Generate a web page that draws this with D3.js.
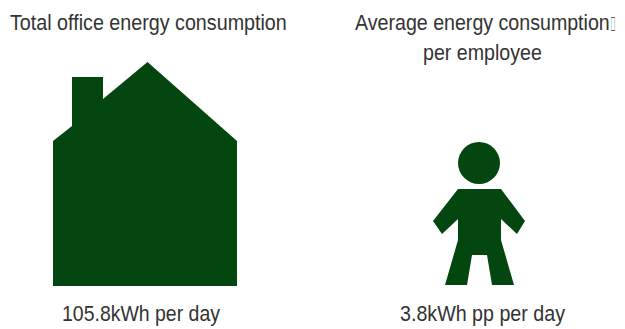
<!DOCTYPE html>
<html>
<head>
<meta charset="utf-8">
<script src="https://cdn.jsdelivr.net/npm/d3@7"></script>
<style>
  html, body { margin: 0; padding: 0; background: #fff; }
  svg { display: block; }
  text { font-family: "Liberation Sans", Arial, sans-serif; font-size: 22px; fill: #333; }
</style>
</head>
<body>
<svg id="chart" width="625" height="329"></svg>
<script>
const titleLeft = "Total office energy consumption";
const titleRight = "Average energy consumption";
const titleRightSecond = "per employee";
const missingGlyph = "\uFFFF";
const values = [105.8, 3.8];
const units = ["kWh per day", "kWh pp per day"];
const fillColor = "#03460f";

// Pictogram outlines, in local drawing units
const houseOutline = [
  [0, 224], [0, 79], [19, 64], [19, 15], [50, 15], [50, 37],
  [94.5, 0], [184, 79], [184, 224]
];
const personOutline = [
  [25, 0], [68, 0], [92, 32], [84, 45], [68, 30], [68, 51], [81, 96],
  [59, 96], [54, 66], [39, 66], [34, 96], [12, 96], [25, 51], [25, 30],
  [9, 45], [0, 32]
];
const personHead = { x: 46, y: -26, r: 21 };

const svg = d3.select("#chart");
const outline = (x, y) => d3.line().x(d => x(d[0])).y(d => y(d[1])).curve(d3.curveLinearClosed);

const houseX = d3.scaleLinear().domain([0, 184]).range([53, 237]);
const houseY = d3.scaleLinear().domain([0, 224]).range([62, 286]);
svg.append("path").attr("d", outline(houseX, houseY)(houseOutline)).attr("fill", fillColor);

const personX = d3.scaleLinear().domain([0, 92]).range([433, 525]);
const personY = d3.scaleLinear().domain([0, 96]).range([189, 285]);
svg.append("path").attr("d", outline(personX, personY)(personOutline)).attr("fill", fillColor);
svg.append("circle")
  .attr("cx", personX(personHead.x))
  .attr("cy", personY(personHead.y))
  .attr("r", personHead.r)
  .attr("fill", fillColor);

// Each label is squeezed horizontally to a fixed run length for a condensed look
const label = (str, x, y, width, size) => {
  const t = svg.append("text").text(str);
  if (size) t.style("font-size", size + "px");
  const k = width / t.node().getComputedTextLength();
  return t.attr("transform", `translate(${x},${y}) scale(${k},1)`);
};

label(titleLeft, 10, 30, 277);
label(titleRight, 355, 30, 255);
label(missingGlyph, 610.5, 31, 5, 20);
label(titleRightSecond, 423, 60, 119);
label(values[0] + units[0], 62, 321, 158);
label(values[1] + units[1], 400, 321, 165);
</script>
</body>
</html>
